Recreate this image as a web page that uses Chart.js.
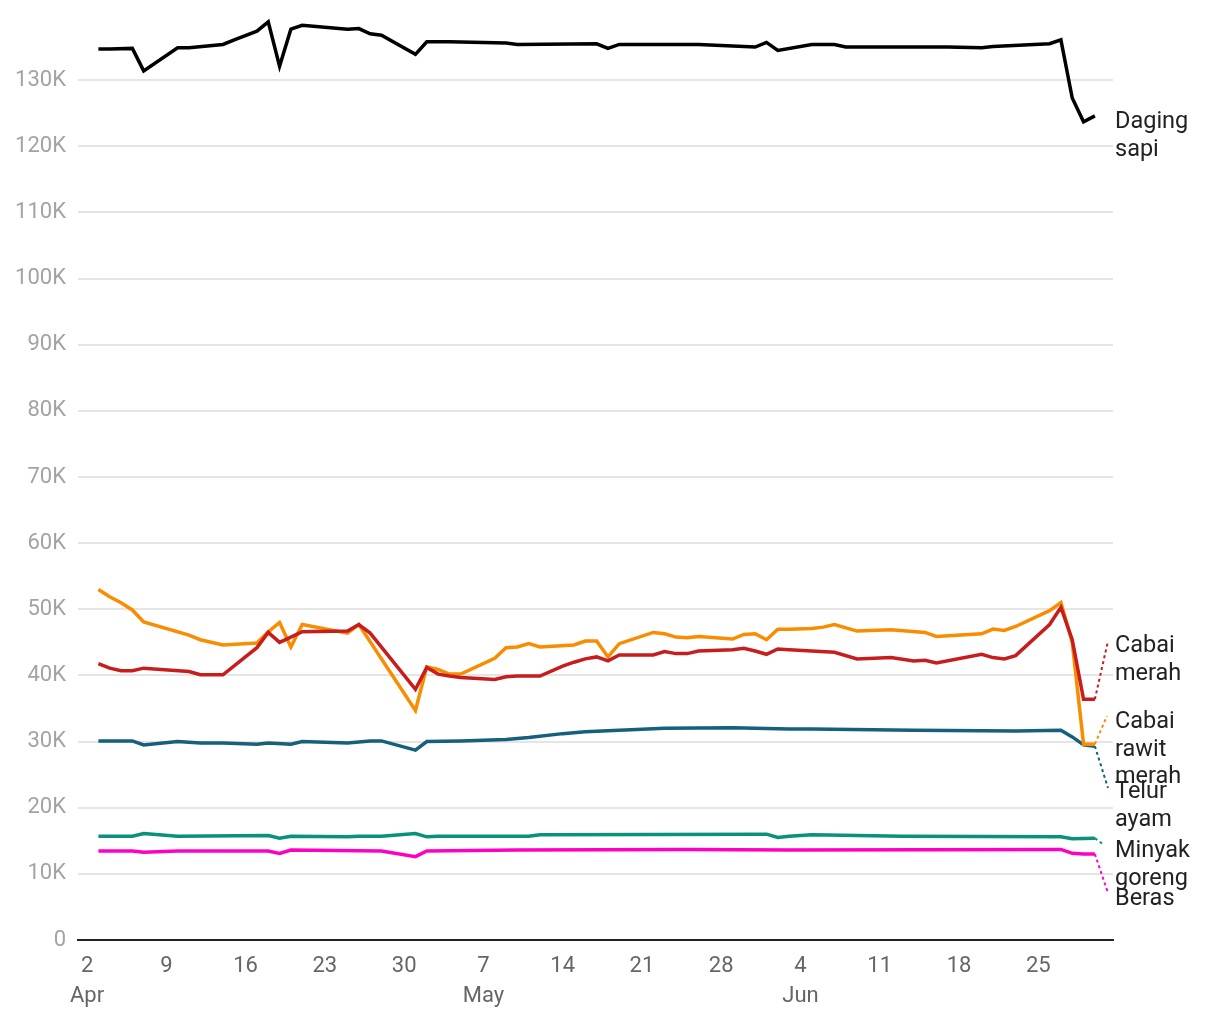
<!DOCTYPE html>
<html>
<head>
<meta charset="utf-8">
<script src="https://cdn.jsdelivr.net/npm/chart.js@4"></script>
<style>
  html, body { margin: 0; padding: 0; background: #fff; }
  canvas { display: block; }
</style>
</head>
<body>
<canvas id="chart" width="1220" height="1020"></canvas>
<script>
// days are counted from 2 April, values in rupiah
const dagingDays = [1, 2, 4, 5, 8, 9, 12, 13, 15, 16, 17, 18, 19, 23, 24, 25, 26, 29, 30, 32, 37, 38, 45, 46, 47, 54, 59, 60, 61, 64, 66, 67, 76, 79, 80, 85, 86, 87, 88, 89];
const dagingSapi = [134700, 134700, 134800, 131400, 134900, 134900, 135400, 136100, 137400, 138800, 132100, 137700, 138300, 137700, 137800, 137000, 136800, 133900, 135800, 135800, 135600, 135400, 135500, 134800, 135400, 135400, 135000, 135700, 134500, 135400, 135400, 135000, 135000, 134900, 135100, 135500, 136100, 127300, 123700, 124600];

const merahDays = [1, 2, 3, 4, 5, 9, 10, 12, 15, 16, 17, 18, 19, 23, 24, 25, 29, 30, 31, 32, 33, 36, 37, 38, 40, 42, 43, 44, 45, 46, 47, 50, 51, 52, 53, 54, 57, 58, 59, 60, 61, 62, 66, 68, 71, 73, 74, 75, 79, 80, 81, 82, 85, 86, 87, 88, 89];
const cabaiMerah = [41800, 41100, 40700, 40700, 41100, 40600, 40100, 40100, 44200, 46500, 45000, 45800, 46600, 46700, 47700, 46400, 37900, 41200, 40200, 39900, 39700, 39400, 39800, 39900, 39900, 41400, 42000, 42500, 42800, 42200, 43100, 43100, 43600, 43300, 43300, 43700, 43900, 44100, 43700, 43200, 44000, 43900, 43500, 42500, 42700, 42200, 42300, 41900, 43200, 42700, 42500, 43000, 47700, 50300, 45400, 36400, 36400];

const rawitDays = [1, 2, 3, 4, 5, 9, 10, 12, 15, 16, 17, 18, 19, 23, 24, 29, 30, 31, 32, 33, 36, 37, 38, 39, 40, 43, 44, 45, 46, 47, 50, 51, 52, 53, 54, 57, 58, 59, 60, 61, 62, 64, 65, 66, 68, 71, 74, 75, 79, 80, 81, 82, 85, 86, 87, 88, 89];
const cabaiRawit = [53000, 51900, 51000, 49900, 48100, 46100, 45400, 44600, 44900, 46600, 48000, 44300, 47700, 46400, 47700, 34700, 41300, 40900, 40200, 40200, 42600, 44200, 44300, 44800, 44300, 44600, 45200, 45200, 42800, 44800, 46500, 46300, 45800, 45700, 45900, 45500, 46200, 46300, 45400, 47000, 47000, 47100, 47300, 47700, 46700, 46900, 46500, 45900, 46300, 47000, 46800, 47400, 49800, 51000, 45000, 29600, 29600];

const telurDays = [1, 4, 5, 8, 9, 10, 12, 15, 16, 18, 19, 23, 25, 26, 29, 30, 33, 37, 39, 42, 44, 48, 51, 57, 62, 64, 73, 82, 86, 87, 88, 89];
const telurAyam = [30100, 30100, 29500, 30000, 29900, 29800, 29800, 29600, 29800, 29600, 30000, 29800, 30100, 30100, 28700, 30000, 30100, 30300, 30600, 31200, 31500, 31800, 32000, 32100, 31900, 31900, 31700, 31600, 31700, 30700, 29500, 29300];

const minyakDays = [1, 4, 5, 8, 16, 17, 18, 23, 24, 26, 29, 30, 31, 39, 40, 60, 61, 62, 64, 72, 86, 87, 89];
const minyakGoreng = [15700, 15700, 16100, 15700, 15800, 15400, 15700, 15600, 15700, 15700, 16100, 15600, 15700, 15700, 15900, 16000, 15500, 15700, 15900, 15700, 15600, 15300, 15400];

const berasDays = [1, 4, 5, 8, 16, 17, 18, 26, 29, 30, 38, 53, 62, 86, 87, 88, 89];
const beras = [13450, 13450, 13250, 13450, 13450, 13100, 13600, 13450, 12600, 13450, 13600, 13700, 13600, 13700, 13100, 13000, 13000];

const xTickDays = [0, 7, 14, 21, 28, 35, 42, 49, 56, 63, 70, 77, 84];
const monthNames = ['Jan', 'Feb', 'Mar', 'Apr', 'May', 'Jun', 'Jul'];

const series = [
  { name: 'Daging sapi', days: dagingDays, values: dagingSapi, color: '#000000' },
  { name: 'Cabai merah', days: merahDays, values: cabaiMerah, color: '#c71e1d' },
  { name: 'Cabai rawit merah', days: rawitDays, values: cabaiRawit, color: '#fa8c00' },
  { name: 'Telur ayam', days: telurDays, values: telurAyam, color: '#15607a' },
  { name: 'Minyak goreng', days: minyakDays, values: minyakGoreng, color: '#09917b' },
  { name: 'Beras', days: berasDays, values: beras, color: '#ff00c3' }
];

// where each end label sits (text baseline of first line, connector end)
const labelLayout = {
  'Daging sapi': { lines: ['Daging', 'sapi'], y: 128 },
  'Cabai merah': { lines: ['Cabai', 'merah'], y: 652, to: [1108, 641] },
  'Cabai rawit merah': { lines: ['Cabai', 'rawit', 'merah'], y: 728, to: [1107, 716] },
  'Telur ayam': { lines: ['Telur', 'ayam'], y: 798, to: [1108, 788] },
  'Minyak goreng': { lines: ['Minyak', 'goreng'], y: 857, to: [1104, 845] },
  'Beras': { lines: ['Beras'], y: 905, to: [1108, 893] }
};

const FONT = 'Roboto, "Noto Sans", sans-serif';

function dayToDate(d) {
  return new Date(Date.UTC(2022, 3, 2 + d));
}

const endLabels = {
  id: 'endLabels',
  afterDatasetsDraw(chart) {
    const ctx = chart.ctx;
    ctx.save();
    chart.data.datasets.forEach((ds, i) => {
      const meta = chart.getDatasetMeta(i);
      const last = meta.data[meta.data.length - 1];
      const lay = labelLayout[ds.label];
      if (!lay) return;
      if (lay.to) {
        ctx.beginPath();
        ctx.setLineDash([3, 3]);
        ctx.lineWidth = 2;
        ctx.strokeStyle = ds.borderColor;
        ctx.moveTo(last.x, last.y);
        ctx.lineTo(lay.to[0], lay.to[1]);
        ctx.stroke();
        ctx.setLineDash([]);
      }
      ctx.fillStyle = '#222';
      ctx.font = '23.5px ' + FONT;
      ctx.textAlign = 'left';
      ctx.textBaseline = 'alphabetic';
      lay.lines.forEach((t, k) => ctx.fillText(t, 1115, lay.y + k * 27.5));
    });
    ctx.restore();
  }
};

new Chart(document.getElementById('chart'), {
  type: 'line',
  data: {
    datasets: series.map(s => ({
      label: s.name,
      data: s.days.map((d, i) => ({ x: d, y: s.values[i] })),
      borderColor: s.color,
      borderWidth: 3.5,
      pointRadius: 0,
      tension: 0,
      fill: false
    }))
  },
  options: {
    responsive: false,
    animation: false,
    devicePixelRatio: 1,
    layout: { padding: { top: 14, right: 107, left: 0, bottom: 0 } },
    plugins: {
      legend: { display: false },
      tooltip: { enabled: false }
    },
    scales: {
      x: {
        type: 'linear',
        min: -0.8,
        max: 90.6,
        afterBuildTicks: s => { s.ticks = xTickDays.map(v => ({ value: v })); },
        afterFit: s => { s.height = 80; s.paddingLeft = 0; s.paddingRight = 0; },
        grid: { display: false, drawTicks: false },
        border: { display: true, color: '#222', width: 2 },
        ticks: {
          padding: 12,
          maxRotation: 0,
          autoSkip: false,
          color: '#666',
          font: { family: FONT, size: 22, lineHeight: 1.36 },
          callback: v => {
            const dt = dayToDate(v);
            const day = String(dt.getUTCDate());
            if (v === 0 || dt.getUTCDate() <= 7) return [day, monthNames[dt.getUTCMonth()]];
            return day;
          }
        }
      },
      y: {
        min: 0,
        max: 140000,
        afterBuildTicks: s => {
          const t = [];
          for (let v = 0; v <= 130000; v += 10000) t.push({ value: v });
          s.ticks = t;
        },
        afterFit: s => { s.width = 78; s.paddingTop = 0; s.paddingBottom = 0; },
        grid: {
          drawTicks: false,
          color: c => (c.tick && c.tick.value === 0) ? 'rgba(0,0,0,0)' : '#e5e5e5',
          lineWidth: 2
        },
        border: { display: false },
        ticks: {
          padding: 12,
          color: '#a3a3a3',
          font: { family: FONT, size: 22 },
          callback: v => v === 0 ? '0' : (v / 1000) + 'K'
        }
      }
    }
  },
  plugins: [endLabels]
});
</script>
</body>
</html>
